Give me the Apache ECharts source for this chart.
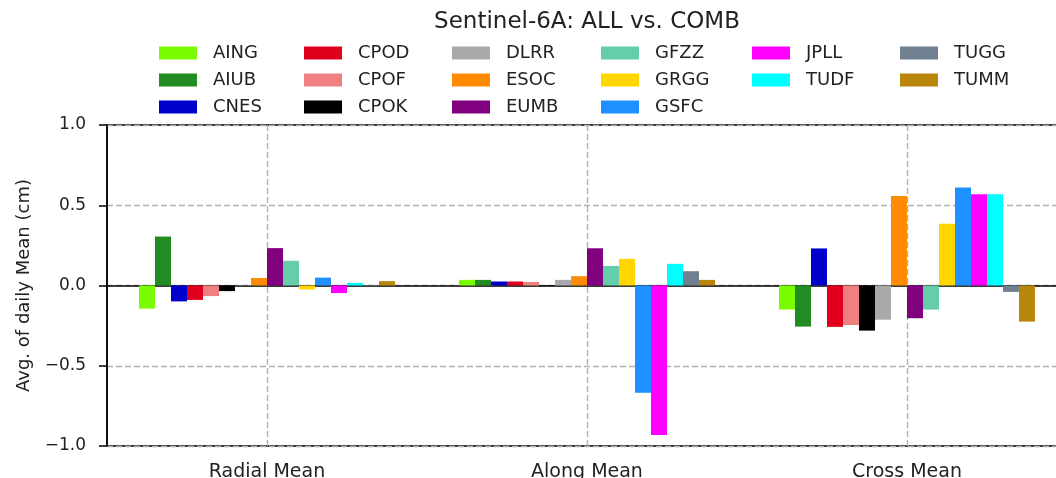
<!DOCTYPE html>
<html>
<head>
<meta charset="utf-8">
<script src="https://cdn.jsdelivr.net/npm/echarts@6/dist/echarts.min.js"></script>
<style>
  html, body { margin: 0; padding: 0; background: #fff; overflow: hidden; }
  /* the plot frame runs past the right edge of the page */
  #chart { width: 1072px; height: 478px; }
</style>
</head>
<body>
<div id="chart"></div>
<script>
// Components of the mean orbit difference, per analysis centre (cm)
const categories = ['Radial Mean', 'Along Mean', 'Cross Mean'];
const centres = ['AING', 'AIUB', 'CNES', 'CPOD', 'CPOF', 'CPOK', 'DLRR', 'ESOC',
                 'EUMB', 'GFZZ', 'GRGG', 'GSFC', 'JPLL', 'TUDF', 'TUGG', 'TUMM'];
const radialMean = [-0.144, 0.305, -0.099, -0.090, -0.066, -0.035, 0.002, 0.047,
                    0.233, 0.154, -0.025, 0.049, -0.047, 0.016, -0.004, 0.027];
const alongMean  = [0.035, 0.035, 0.025, 0.025, 0.022, 0.003, 0.035, 0.058,
                    0.232, 0.122, 0.166, -0.668, -0.932, 0.135, 0.089, 0.035];
const crossMean  = [-0.150, -0.256, 0.231, -0.258, -0.246, -0.281, -0.213, 0.558,
                    -0.204, -0.150, 0.385, 0.610, 0.569, 0.569, -0.040, -0.225];
const yTicks = [-1.0, -0.5, 0.0, 0.5, 1.0];

const palette = ['#7CFC00', '#228B22', '#0000CD', '#E0001E', '#F08080', '#000000',
                 '#A9A9A9', '#FF8C00', '#800080', '#66CDAA', '#FFD700', '#1E90FF',
                 '#FF00FF', '#00FFFF', '#708090', '#B8860B'];

const FONT = 'DejaVu Sans';
const TEXT = '#222';
const GRID_LINE = { color: '#b0b0b0', width: 1.4, type: [6, 3] };

const chart = echarts.init(document.getElementById('chart'), null, { renderer: 'canvas' });

// Legend laid out in columns of three entries, column-major
const legendColumns = [[0, 1, 2], [3, 4, 5], [6, 7, 8], [9, 10, 11], [12, 13], [14, 15]];
const legendLeft = [159, 304, 452, 601, 752, 900];
const legends = legendColumns.map((col, k) => ({
  orient: 'vertical',
  left: legendLeft[k],
  top: 44,
  padding: 0,
  itemWidth: 38,
  itemHeight: 13,
  itemGap: 9,
  icon: 'rect',
  selectedMode: false,
  data: col.map(i => centres[i]),
  textStyle: { fontFamily: FONT, fontSize: 18, color: TEXT, padding: [0, 0, 0, 11] }
}));

const barSeries = centres.map((name, i) => ({
  name: name,
  type: 'bar',
  barWidth: 16,
  barGap: '0%',
  z: 3,
  itemStyle: { color: palette[i] },
  data: [radialMean[i], alongMean[i], crossMean[i]]
}));

// Vertical dashed guide lines at the category centres, kept beneath the bars
const guideSeries = {
  type: 'line',
  data: [],
  z: 1,
  silent: true,
  markLine: {
    z: 1,
    silent: true,
    symbol: 'none',
    label: { show: false },
    lineStyle: GRID_LINE,
    data: categories.map(c => ({ xAxis: c }))
  }
};

chart.setOption({
  backgroundColor: '#fff',
  animation: false,
  title: {
    text: 'Sentinel-6A: ALL vs. COMB',
    left: 582,
    top: 6,
    textAlign: 'center',
    textStyle: { fontFamily: FONT, fontSize: 23, fontWeight: 'normal', color: TEXT }
  },
  legend: legends,
  grid: {
    left: 107, top: 125, width: 960, height: 321,
    outerBoundsMode: 'none',
    show: true, borderColor: '#000', borderWidth: 1.5, backgroundColor: 'transparent'
  },
  xAxis: {
    type: 'category',
    data: categories,
    axisLine: { lineStyle: { color: '#000', width: 1.5 } },
    axisTick: { alignWithLabel: true, length: 8, lineStyle: { color: '#000', width: 1.5 } },
    axisLabel: { fontFamily: FONT, fontSize: 19, color: TEXT, margin: 17 },
    splitLine: { show: false }
  },
  yAxis: {
    type: 'value',
    min: yTicks[0],
    max: yTicks[yTicks.length - 1],
    interval: 0.5,
    name: 'Avg. of daily Mean (cm)',
    nameLocation: 'middle',
    nameGap: 74,
    nameTextStyle: { fontFamily: FONT, fontSize: 18, color: TEXT },
    axisLine: { show: true, lineStyle: { color: '#000', width: 1.5 } },
    axisTick: { show: true, length: 8, lineStyle: { color: '#000', width: 1.5 } },
    axisLabel: {
      fontFamily: FONT, fontSize: 17, color: TEXT, margin: 21,
      formatter: v => v.toFixed(1).replace('-', '\u2212')
    },
    splitLine: { show: true, lineStyle: GRID_LINE }
  },
  series: [guideSeries].concat(barSeries)
});
</script>
</body>
</html>
